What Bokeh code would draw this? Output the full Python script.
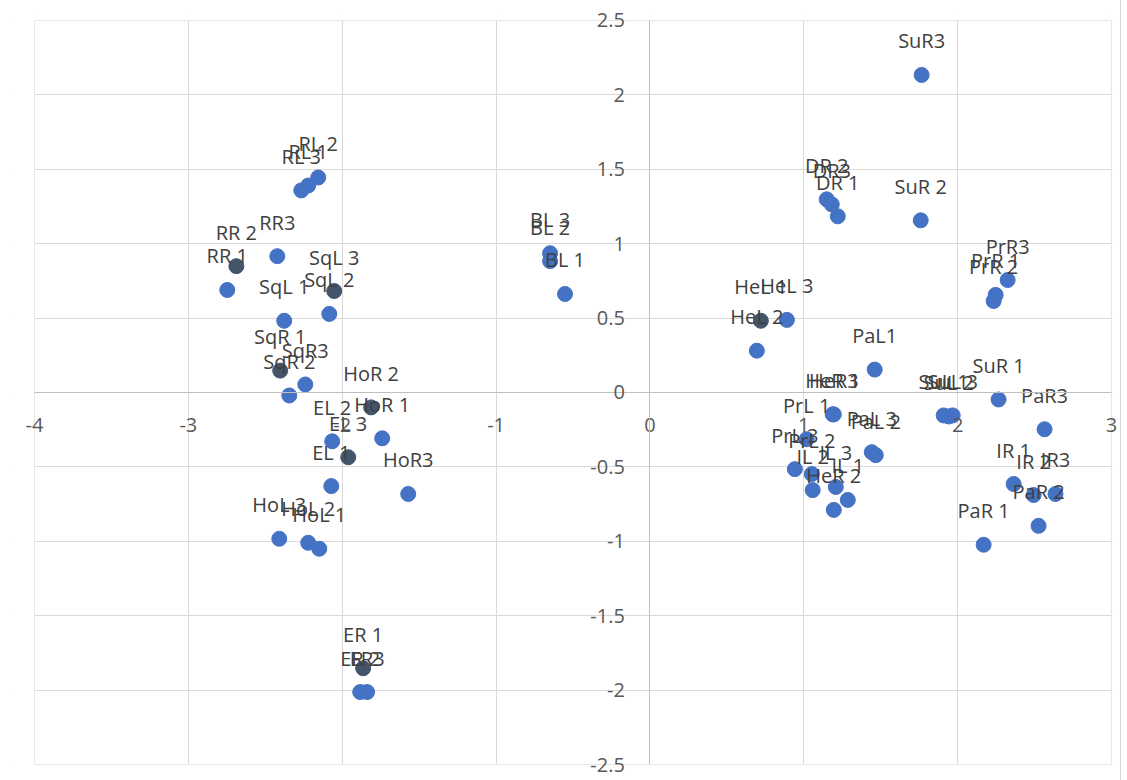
from bokeh.plotting import figure
from bokeh.models import ColumnDataSource, FixedTicker, CustomJSTickFormatter, BoxAnnotation
from bokeh.core.properties import value
from bokeh.embed import file_html
from bokeh.resources import INLINE

names = ["RL 1", "RL 2", "RL 3", "RR 1", "RR 2", "RR3",
         "SqL 1", "SqL 2", "SqL 3", "SqR 1", "SqR 2", "SqR3",
         "HoL 1", "HoL 2", "HoL 3", "HoR 1", "HoR 2", "HoR3",
         "EL 1", "EL 2", "EL 3", "ER 1", "ER 2", "ER3",
         "BL 1", "BL 2", "BL 3", "DR 1", "DR 2", "DR3",
         "HeL 1", "HeL 2", "HeL 3", "HeR 1", "HeR 2", "HeR3",
         "PaL1", "PaL 2", "PaL 3", "PaR 1", "PaR 2", "PaR3",
         "PrL 1", "PrL 2", "PrL 3", "PrR 1", "PrR 2", "PrR3",
         "IL 1", "IL 2", "IL 3", "IR 1", "IR 2", "IR3",
         "SuL 1", "SuL 2", "SuL 3", "SuR 1", "SuR 2", "SuR3"]

x_vals = [-2.221, -2.156, -2.266, -2.747, -2.688, -2.422,
          -2.377, -2.084, -2.052, -2.403, -2.344, -2.240,
          -2.149, -2.221, -2.409, -1.740, -1.812, -1.571,
          -2.071, -2.065, -1.961, -1.864, -1.883, -1.838,
          -0.552, -0.649, -0.649, 1.221, 1.149, 1.182,
          0.721, 0.695, 0.890, 1.188, 1.195, 1.195,
          1.461, 1.468, 1.442, 2.169, 2.526, 2.565,
          1.019, 1.052, 0.942, 2.247, 2.234, 2.325,
          1.286, 1.058, 1.208, 2.364, 2.494, 2.636,
          1.909, 1.942, 1.968, 2.266, 1.760, 1.766]

y_vals = [1.391, 1.445, 1.358, 0.689, 0.849, 0.916,
          0.482, 0.528, 0.682, 0.147, -0.020, 0.054,
          -1.050, -1.010, -0.983, -0.308, -0.100, -0.682,
          -0.629, -0.328, -0.435, -1.853, -2.013, -2.013,
          0.662, 0.883, 0.936, 1.184, 1.298, 1.264,
          0.482, 0.281, 0.488, -0.147, -0.789, -0.147,
          0.154, -0.421, -0.401, -1.023, -0.896, -0.247,
          -0.314, -0.548, -0.515, 0.656, 0.615, 0.756,
          -0.722, -0.656, -0.635, -0.615, -0.689, -0.682,
          -0.154, -0.161, -0.154, -0.047, 1.157, 2.134]

x_ticks = [-4, -3, -2, -1, 0, 1, 2, 3]
y_ticks = [-2.5, -2, -1.5, -1, -0.5, 0, 0.5, 1, 1.5, 2, 2.5]
X_MIN, X_MAX = -4, 3
Y_MIN, Y_MAX = -2.5, 2.5

# styling (points that look darker in the original)
dark_points = {"RR 2", "SqL 3", "SqR 1", "HoR 2", "EL 3", "ER 1", "HeL 1"}
BLUE = "#4472C4"
DARK = "#44546A"
GRID = "#d9d9d9"
colors = [DARK if n in dark_points else BLUE for n in names]

src = ColumnDataSource(dict(x=x_vals, y=y_vals, name=names, color=colors))

# ranges padded a little so the end tick labels are not clipped by the frame
p = figure(width=1120, height=780,
           x_range=(X_MIN - 0.13, X_MAX + 0.0455),
           y_range=(Y_MIN - 0.1075, Y_MAX + 0.0806),
           output_backend="svg", toolbar_location=None,
           min_border_left=14, min_border_right=2,
           min_border_top=8, min_border_bottom=0)
p.styles = {"outline": "1px solid #d9d9d9"}

p.outline_line_color = None
p.background_fill_color = "white"
p.border_fill_color = "white"

p.xaxis.fixed_location = 0
p.yaxis.fixed_location = 0
p.xaxis.bounds = (X_MIN, X_MAX)
p.yaxis.bounds = (Y_MIN, Y_MAX)
p.xaxis.ticker = FixedTicker(ticks=x_ticks)
p.yaxis.ticker = FixedTicker(ticks=y_ticks)
fmt = "return tick.toString();"
p.xaxis.formatter = CustomJSTickFormatter(code=fmt)
p.yaxis.formatter = CustomJSTickFormatter(code=fmt)
for ax in (p.xaxis, p.yaxis):
    ax.axis_line_color = "#bfbfbf"
    ax.axis_line_width = 1
    ax.major_tick_line_color = None
    ax.minor_tick_line_color = None
    ax.major_label_text_font = "Open Sans"
    ax.major_label_text_font_size = "20px"
    ax.major_label_text_color = "#595959"
p.xaxis.major_label_standoff = 20
p.yaxis.major_label_standoff = 19

p.xgrid.ticker = FixedTicker(ticks=x_ticks)
p.ygrid.ticker = FixedTicker(ticks=y_ticks)
p.grid.grid_line_color = GRID
p.grid.grid_line_width = 1

# white covers outside the plot box (hide grid stubs in the padding)
for kw in (dict(right=X_MIN), dict(left=X_MAX), dict(top=Y_MIN), dict(bottom=Y_MAX)):
    p.add_layout(BoxAnnotation(**kw, fill_color="white", fill_alpha=1,
                               line_color=None, level="underlay"))
p.add_layout(BoxAnnotation(left=X_MIN, right=X_MAX, bottom=Y_MIN, top=Y_MAX,
                           fill_alpha=0, line_color=GRID, line_width=1,
                           level="underlay"))

p.scatter("x", "y", source=src, size=15, fill_color="color", line_color="color")
p.text("x", "y", text="name", source=src, text_align="center",
       text_baseline="middle", y_offset=-34,
       text_font=value("Open Sans"), text_font_size="20px",
       text_color="#404040")

open("out.html", "w").write(file_html(p, INLINE))
